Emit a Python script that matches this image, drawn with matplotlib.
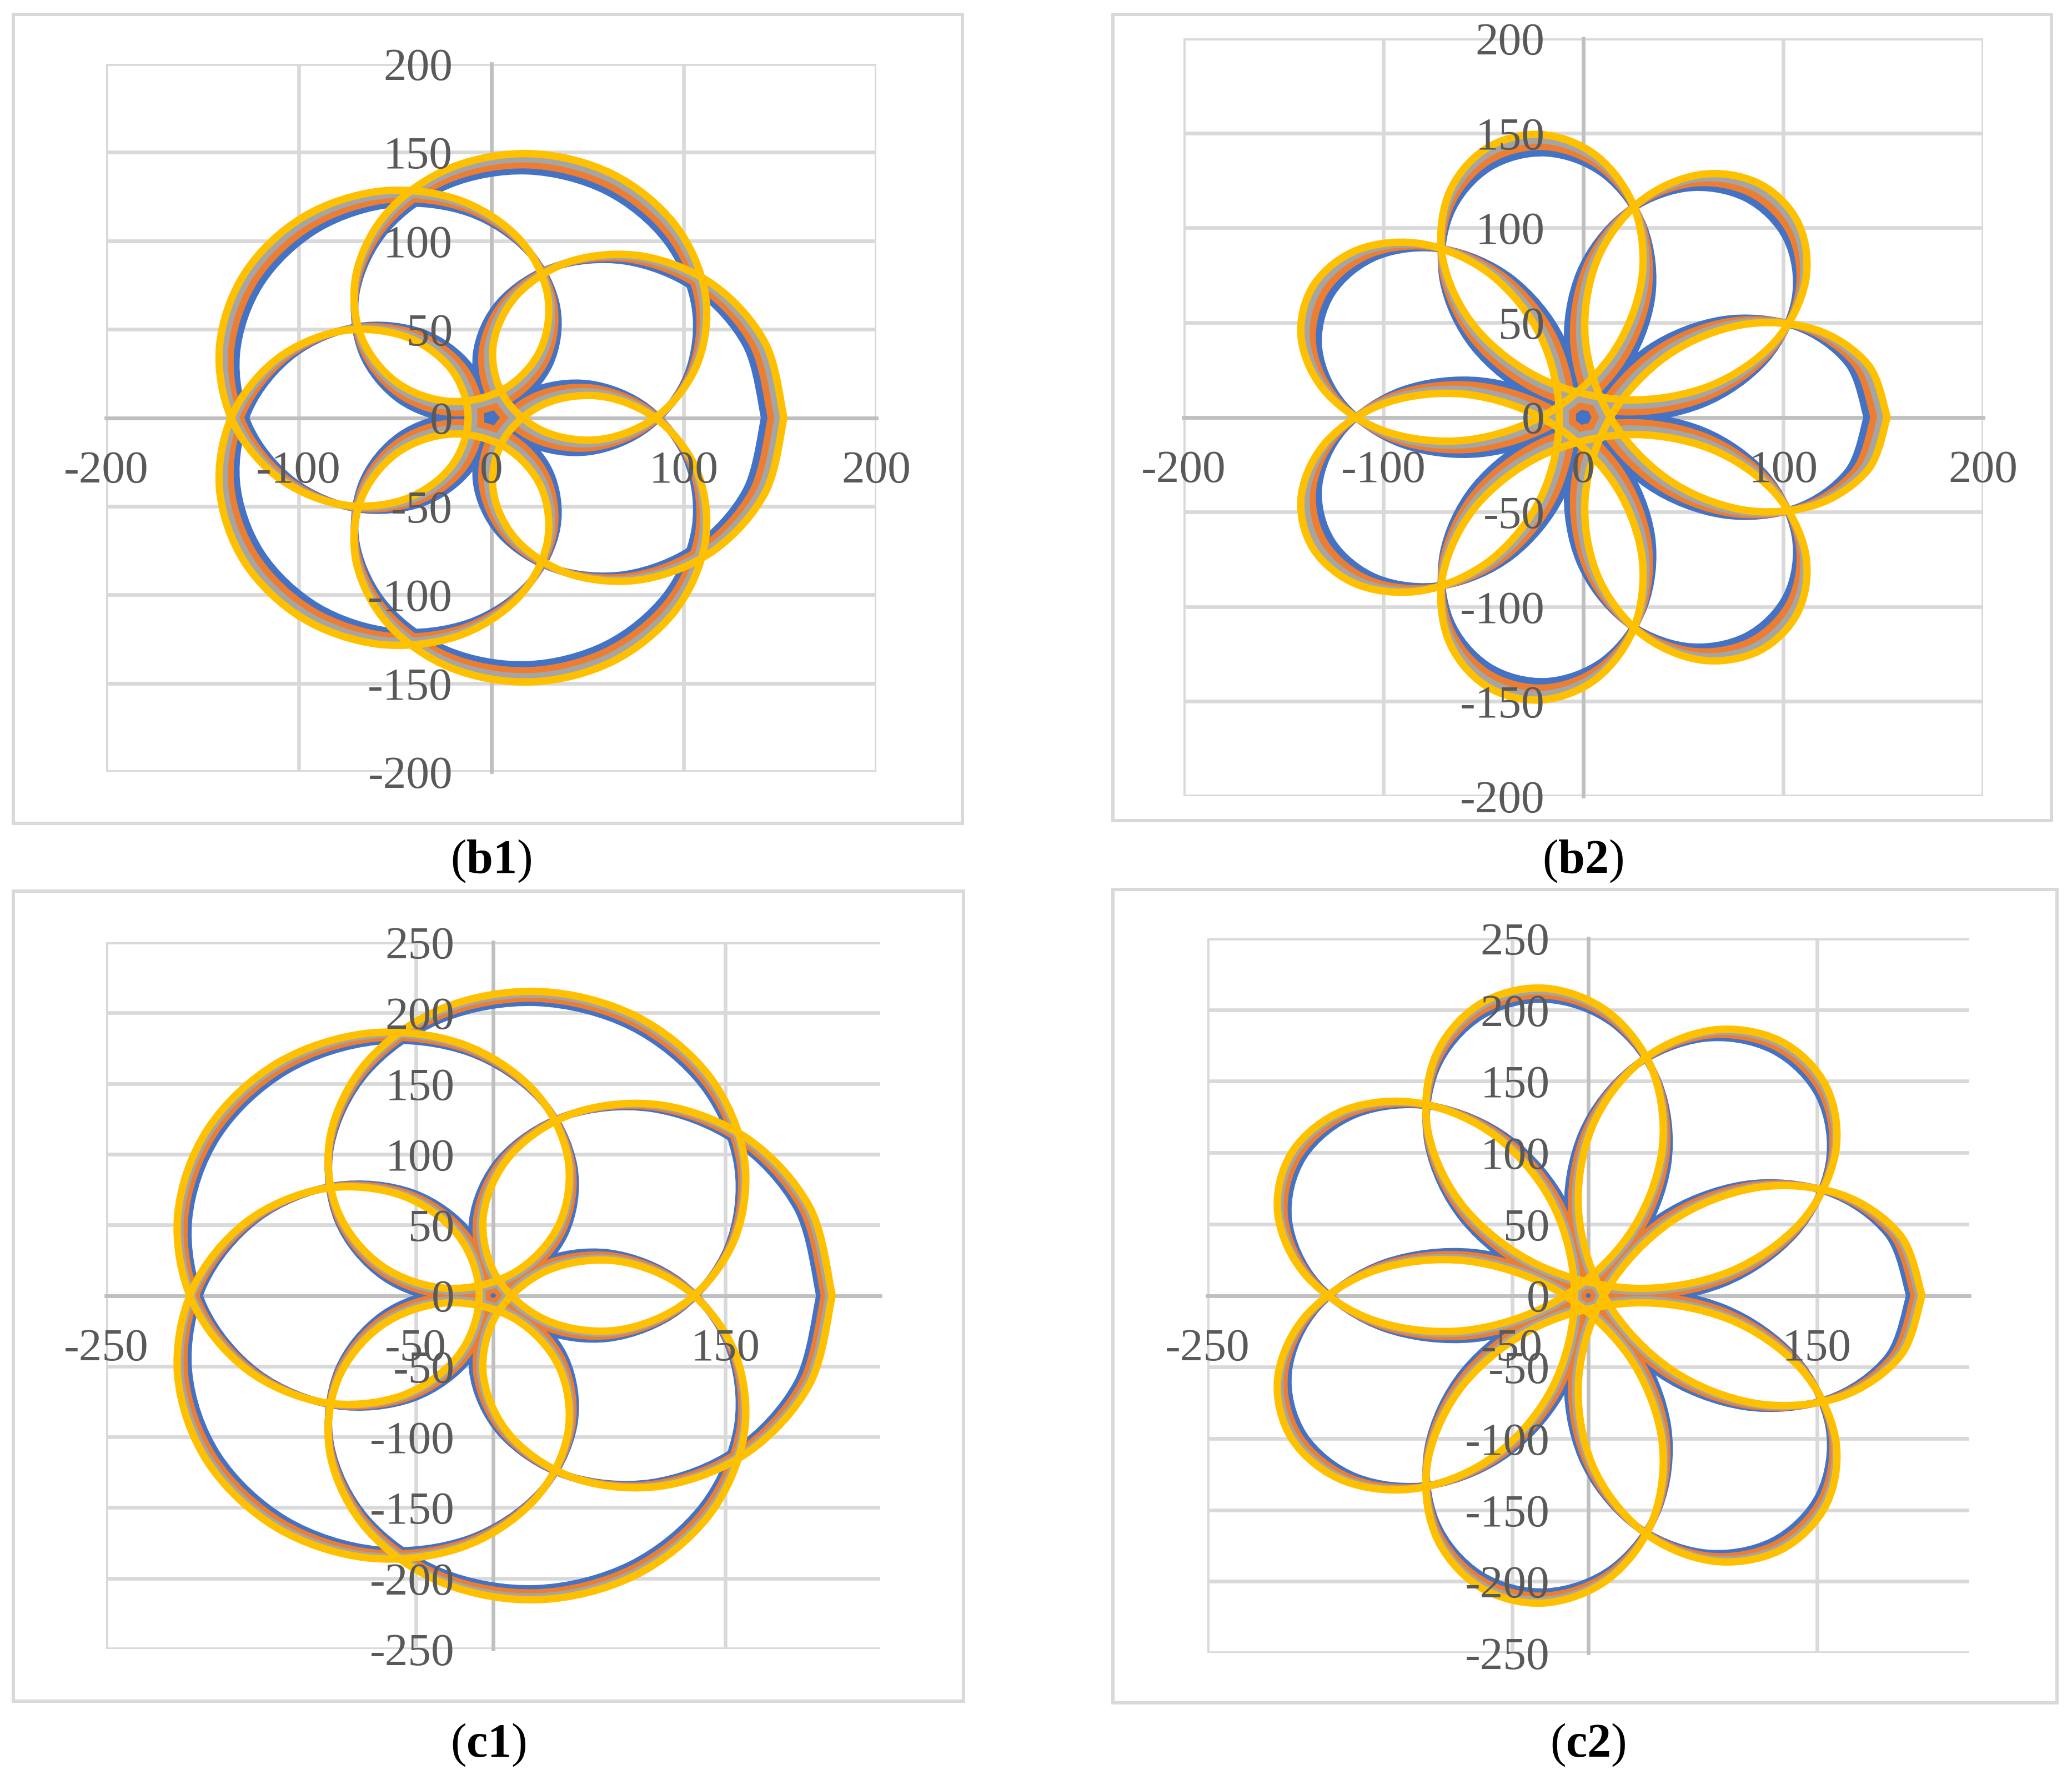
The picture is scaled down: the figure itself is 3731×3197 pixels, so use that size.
import numpy as np
import matplotlib.pyplot as plt
from matplotlib.path import Path
from matplotlib.patches import PathPatch, Rectangle

plt.rcParams['font.family'] = ['Liberation Serif', 'DejaVu Serif']
plt.rcParams['mathtext.fontset'] = 'custom'
plt.rcParams['mathtext.rm'] = 'Liberation Serif'
plt.rcParams['mathtext.bf'] = 'Liberation Serif:bold'
plt.rcParams['axes.unicode_minus'] = False

W, H = 3731, 3197

# series colours (Excel default palette)
colors = ['#4472C4', '#ED7D31', '#A5A5A5', '#FFC000']

step_deg = 5
k_b1, k_b2, k_c1, k_c2 = 6, -6, 6, -6
B_b = 70
A_b1 = [72, 75.5, 79, 82]
A_b2 = [72, 75.5, 79, 82]
B_c = 105
A_c1 = [106, 109, 112, 114]
A_c2 = [106, 109, 112, 114]

# axis ticks
xticks_b = [-200, -100, 0, 100, 200]
yticks_b = [-200, -150, -100, -50, 0, 50, 100, 150, 200]
xticks_c = [-250, -50, 150]
yticks_c = [-250, -200, -150, -100, -50, 0, 50, 100, 150, 200, 250]


def smooth_path(x, y):
    # Bezier through the sample points, like Excel's "smoothed line"
    pts = np.column_stack([x, y])
    n = len(pts)
    verts = [pts[0]]
    codes = [Path.MOVETO]
    for i in range(n - 1):
        p0 = pts[i - 1] if i > 0 else pts[i]
        p1 = pts[i]
        p2 = pts[i + 1]
        p3 = pts[i + 2] if i + 2 < n else pts[i + 1]
        verts += [p1 + (p2 - p0) / 6, p2 - (p3 - p1) / 6, p2]
        codes += [Path.CURVE4] * 3
    verts.append(pts[0])
    codes.append(Path.CLOSEPOLY)
    return Path(verts, codes)


def px_box(x0, y0, x1, y1):
    return [x0 / W, 1 - y1 / H, (x1 - x0) / W, (y1 - y0) / H]


fig = plt.figure(figsize=(W / 100, H / 100), dpi=100)

panels = [
    # plot area px, border px, label pos, k, B, A list, xlim, ylim, xticks, yticks, name
    ((191, 115, 1578, 1390), (24, 26, 1733, 1483), (884, 1551), k_b1, B_b, A_b1,
     (-200, 200), (-200, 200), xticks_b, yticks_b, 'b1'),
    ((2131, 69, 3571, 1434), (2004, 26, 3694, 1478), (2850, 1551), k_b2, B_b, A_b2,
     (-200, 200), (-200, 200), xticks_b, yticks_b, 'b2'),
    ((191, 1697, 1585, 2970), (24, 1605, 1735, 3064), (879, 3143), k_c1, B_c, A_c1,
     (-250, 250), (-250, 250), xticks_c, yticks_c, 'c1'),
    ((2174, 1690, 3546, 2977), (2004, 1602, 3704, 3067), (2859, 3143), k_c2, B_c, A_c2,
     (-250, 250), (-250, 250), xticks_c, yticks_c, 'c2'),
]

for area, border, lab, k, B, A_list, xlim, ylim, xt, yt, name in panels:
    fig.patches.append(Rectangle((border[0] / W, 1 - border[3] / H),
                                 (border[2] - border[0]) / W, (border[3] - border[1]) / H,
                                 transform=fig.transFigure, fill=False,
                                 edgecolor='#D9D9D9', lw=4.3))
    ax = fig.add_axes(px_box(*area))
    ax.set_xlim(*xlim)
    ax.set_ylim(*ylim)
    ax.patch.set_alpha(0)

    for v in xt:
        ax.axvline(v, color='#D9D9D9', lw=4.8, zorder=0.5)
    for v in yt:
        ax.axhline(v, color='#D9D9D9', lw=4.8, zorder=0.5)

    t = np.deg2rad(np.arange(0, 360 + step_deg, step_deg))
    for A, c in zip(A_list, colors):
        z = A * np.exp(1j * t) + B * np.exp(1j * k * t)
        ax.add_patch(PathPatch(smooth_path(z.real, z.imag), fill=False, edgecolor=c,
                               lw=9.6, joinstyle='miter', zorder=2))

    for s in ['top', 'right']:
        ax.spines[s].set_visible(False)
    for s in ['left', 'bottom']:
        ax.spines[s].set_position(('data', 0))
        ax.spines[s].set_color('#BFBFBF')
        ax.spines[s].set_linewidth(4.8)
        ax.spines[s].set_zorder(0.8)
    ax.set_xticks(xt)
    ax.set_yticks(yt)
    ax.tick_params(length=0, labelsize=60, labelcolor='#595959')
    ax.tick_params(axis='y', pad=50)
    ax.tick_params(axis='x', pad=42)
    ax.set_axisbelow(False)
    for a in (ax.xaxis, ax.yaxis):
        a.set_zorder(3)

    fig.text(lab[0] / W, 1 - lab[1] / H, '($\\mathbf{%s}$)' % name, ha='center', va='center',
             fontsize=62, color='black')

fig.savefig('out.png', dpi=100)
